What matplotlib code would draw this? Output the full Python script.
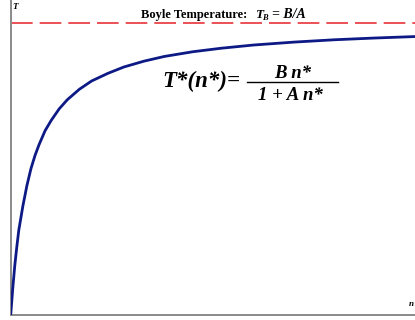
import matplotlib
matplotlib.use("Agg")
import matplotlib.pyplot as plt

# Curve values (n*, T*) with Boyle temperature T_B = 1
n_vals = [0.0, 0.05, 0.1, 0.15, 0.2, 0.3, 0.4, 0.5, 0.6, 0.7, 0.85, 1.0, 1.2,
          1.4, 1.7, 2.0, 2.4, 2.8, 3.3, 3.8, 4.5, 5.2, 6.0, 7.0, 8.0, 9.0, 10.0]
t_vals = [0.0, 0.09, 0.168, 0.232, 0.29, 0.372, 0.442, 0.50, 0.545, 0.582, 0.63,
          0.665, 0.705, 0.736, 0.772, 0.80, 0.826, 0.848, 0.868, 0.884, 0.90,
          0.912, 0.923, 0.933, 0.941, 0.947, 0.952]
boyle_T = 1.0

W, H = 415.0, 320.0
fig = plt.figure(figsize=(4.15, 3.2), dpi=100)
ax = fig.add_axes([0.0258, 0.0156, 0.9742, 0.9844])
ax.set_xlim(0, 10)
ax.set_ylim(0, 1.077)

ax.plot(n_vals, t_vals, color="#0d1a86", lw=2.0, solid_capstyle="round",
        solid_joinstyle="round", zorder=3)
ax.axhline(boyle_T, color="#e8343a", lw=1.2, dashes=(13, 4.2), zorder=2)

for s in ["top", "right"]:
    ax.spines[s].set_visible(False)
for s in ["left", "bottom"]:
    ax.spines[s].set_color("#8a8a8a")
    ax.spines[s].set_linewidth(1.4)
ax.set_xticks([])
ax.set_yticks([])

serif = "Liberation Serif"
bi = dict(fontweight="bold", fontstyle="italic", family=serif)


def px(x, y):
    return x / W, 1 - y / H


fig.text(*px(250, 18), "Boyle Temperature: ", ha="right", va="baseline",
         fontsize=9, fontweight="bold", family=serif)
fig.text(*px(255, 18), "T", ha="left", va="baseline", fontsize=9.5, **bi)
fig.text(*px(262, 20), "B", ha="left", va="baseline", fontsize=6, **bi)
fig.text(*px(272, 18), "= B/A", ha="left", va="baseline", fontsize=10, **bi)

fig.text(0.030, 0.99, "T", ha="left", va="top", fontsize=6.5, **bi)
fig.text(0.985, 0.045, "n", ha="left", va="baseline", fontsize=6.5, **bi)

fig.text(0.58, 0.728, "T*(n*)=", ha="right", va="baseline", fontsize=16.5, **bi)
fig.text(0.705, 0.756, "B n*", ha="center", va="baseline", fontsize=13.5, **bi)
fig.text(0.70, 0.688, "1 + A n*", ha="center", va="baseline", fontsize=13.5, **bi)
fig.add_artist(plt.Line2D([0.595, 0.815], [0.744, 0.744], color="black", lw=1.0,
                          transform=fig.transFigure))

fig.savefig("out.png", dpi=100)
